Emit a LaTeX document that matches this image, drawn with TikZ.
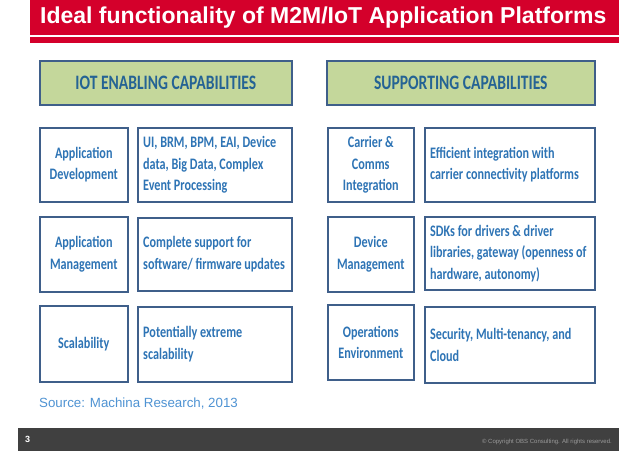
\documentclass[tikz,border=0pt]{standalone}
\usepackage{fontspec}
\setmainfont{Liberation Sans}
\newfontfamily\boxfnt[FakeStretch=0.76]{Carlito}
\definecolor{titlered}{HTML}{D4002B}
\definecolor{boxline}{HTML}{3F5F8A}
\definecolor{boxtext}{HTML}{2E74B5}
\definecolor{headtext}{HTML}{256394}
\definecolor{headfill}{HTML}{C4D79B}
\definecolor{footgray}{HTML}{404040}
\definecolor{srcblue}{HTML}{4F93D3}
\definecolor{copygray}{HTML}{9A9A9A}
\begin{document}
\begin{tikzpicture}[x=1pt,y=-1pt,
  box/.style={draw=boxline, line width=1.6pt, fill=white, anchor=north west, inner sep=0pt},
  headbox/.style={box, fill=headfill, minimum height=44pt},
  headtxt/.style={font=\boxfnt\bfseries\fontsize{20.5}{24}\selectfont, text=headtext},
  smalltxt/.style={font=\boxfnt\bfseries\fontsize{16}{21.5}\selectfont, text=boxtext, align=center, inner sep=0pt},
  bigtxt/.style={font=\boxfnt\bfseries\fontsize{16}{21.5}\selectfont, text=boxtext, align=left, inner sep=0pt, anchor=west}]
\useasboundingbox (0,0) rectangle (638,451);
\fill[white] (0,0) rectangle (638,451);
% title
\fill[titlered] (30,0) rectangle (619,35);
\fill[titlered] (30,37) rectangle (619,43);
\node[anchor=west, text=white, font=\bfseries\fontsize{23}{26}\selectfont, inner sep=0pt] (title) at (40,18) {Ideal functionality of M2M/IoT Application Platforms};
% headers
\node[headbox, minimum width=252pt] (hl) at (39,60) {};
\node[headtxt] (hlt) at (hl.center) {IOT ENABLING CAPABILITIES};
\node[headbox, minimum width=268pt] (hr) at (326,60) {};
\node[headtxt] (hrt) at (hr.center) {SUPPORTING CAPABILITIES};
% left column
\node[box, minimum width=88pt, minimum height=74pt] (l1) at (39,127) {};
\node[smalltxt] (l1t) at (l1.center) {Application\\Development};
\node[box, minimum width=154pt, minimum height=74pt] (l1b) at (137,127) {};
\node[bigtxt] (l1bt) at ([xshift=6pt]l1b.west) {UI, BRM, BPM, EAI, Device\\data, Big Data, Complex\\Event Processing};
\node[box, minimum width=88pt, minimum height=75pt] (l2) at (39,216) {};
\node[smalltxt] (l2t) at (l2.center) {Application\\Management};
\node[box, minimum width=154pt, minimum height=73pt] (l2b) at (137,217) {};
\node[bigtxt] (l2bt) at ([xshift=6pt]l2b.west) {Complete support for\\software/ firmware updates};
\node[box, minimum width=88pt, minimum height=76pt] (l3) at (39,305) {};
\node[smalltxt] (l3t) at (l3.center) {Scalability};
\node[box, minimum width=154pt, minimum height=75pt] (l3b) at (137,306) {};
\node[bigtxt] (l3bt) at ([xshift=6pt]l3b.west) {Potentially extreme\\scalability};
% right column
\node[box, minimum width=86pt, minimum height=74pt] (r1) at (327,127) {};
\node[smalltxt] (r1t) at (r1.center) {Carrier \&\\Comms\\Integration};
\node[box, minimum width=170pt, minimum height=74pt] (r1b) at (424,127) {};
\node[bigtxt] (r1bt) at ([xshift=6pt]r1b.west) {Efficient integration with\\carrier connectivity platforms};
\node[box, minimum width=86pt, minimum height=75pt] (r2) at (327,216) {};
\node[smalltxt] (r2t) at (r2.center) {Device\\Management};
\node[box, minimum width=170pt, minimum height=73pt] (r2b) at (424,216) {};
\node[bigtxt] (r2bt) at ([xshift=6pt]r2b.west) {SDKs for drivers \& driver\\libraries, gateway (openness of\\hardware, autonomy)};
\node[box, minimum width=86pt, minimum height=75pt] (r3) at (327,304) {};
\node[smalltxt] (r3t) at (r3.center) {Operations\\Environment};
\node[box, minimum width=170pt, minimum height=76pt] (r3b) at (424,306) {};
\node[bigtxt] (r3bt) at ([xshift=6pt]r3b.west) {Security, Multi-tenancy, and\\Cloud};
% source
\node[anchor=west, text=srcblue, font=\fontsize{13.3}{15}\selectfont, inner sep=0pt] (src) at (39,404) {Source: Machina Research, 2013};
% footer
\fill[footgray] (18,428) rectangle (619,451);
\node[anchor=west, text=white, font=\bfseries\fontsize{9}{11}\selectfont, inner sep=0pt] (pg) at (25,439) {3};
\node[anchor=east, text=copygray, font=\fontsize{6}{7}\selectfont, inner sep=0pt] (copy) at (612,442) {© Copyright OBS Consulting. All rights reserved.};
\end{tikzpicture}
\end{document}
